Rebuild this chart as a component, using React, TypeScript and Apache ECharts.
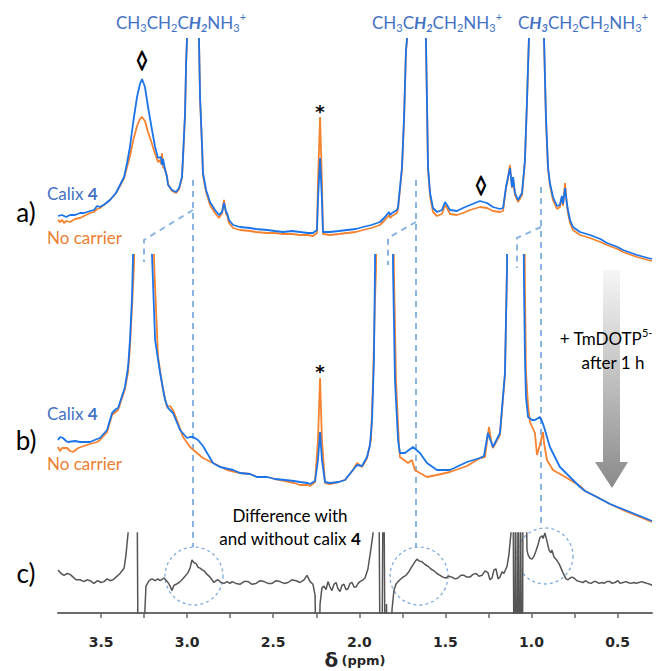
import React, { useEffect, useRef } from 'react';
import * as echarts from 'echarts';

// ppm, intensity (arbitrary units)
const aCalix: number[][] = [[3.750,46],[3.726,47],[3.703,45],[3.680,47],[3.651,47],[3.622,49],[3.599,49],[3.564,51],[3.541,52],[3.523,56],[3.506,55],[3.477,58],[3.448,62],[3.413,69],[3.390,77],[3.366,85],[3.349,99],[3.332,115],[3.314,139],[3.291,165],[3.274,178],[3.262,183],[3.245,175],[3.227,155],[3.204,132],[3.186,115],[3.169,104],[3.152,105],[3.146,97],[3.140,103],[3.128,92],[3.117,85],[3.111,77],[3.088,72],[3.064,70],[3.047,74],[3.030,85],[3.024,105],[3.012,149],[3.006,199],[3.001,222],[2.995,400],[2.937,400],[2.931,222],[2.925,165],[2.913,115],[2.908,89],[2.890,72],[2.867,60],[2.838,52],[2.815,47],[2.797,50],[2.786,59],[2.774,50],[2.768,49],[2.757,42],[2.733,37],[2.693,35],[2.635,34],[2.600,33],[2.536,32],[2.490,31],[2.443,30],[2.390,31],[2.344,30],[2.300,29],[2.269,29],[2.246,32],[2.240,62],[2.228,104],[2.217,62],[2.211,30],[2.170,30],[2.120,31],[2.071,32],[2.020,33],[1.978,35],[1.930,37],[1.880,40],[1.851,45],[1.828,50],[1.820,47],[1.810,49],[1.781,52],[1.775,55],[1.752,95],[1.740,145],[1.729,212],[1.723,223],[1.717,400],[1.618,400],[1.613,223],[1.607,162],[1.601,95],[1.589,69],[1.572,54],[1.549,50],[1.520,52],[1.502,60],[1.491,57],[1.473,52],[1.433,51],[1.398,54],[1.357,57],[1.299,61],[1.258,59],[1.224,55],[1.183,53],[1.165,54],[1.148,75],[1.136,85],[1.125,94],[1.113,75],[1.107,85],[1.096,69],[1.078,62],[1.055,69],[1.038,102],[1.026,162],[1.015,223],[1.009,400],[0.933,400],[0.927,223],[0.916,145],[0.904,95],[0.893,79],[0.875,65],[0.852,56],[0.835,57],[0.823,66],[0.817,58],[0.805,74],[0.794,58],[0.788,52],[0.776,42],[0.759,35],[0.718,30],[0.660,27],[0.600,23],[0.562,19],[0.500,15],[0.469,12],[0.420,9],[0.387,7],[0.323,4],[0.300,3]];

const aNoCarrier: number[][] = [[3.750,42],[3.738,40],[3.726,42],[3.715,39],[3.703,41],[3.680,40],[3.651,43],[3.622,44],[3.599,46],[3.564,49],[3.541,50],[3.523,53],[3.506,54],[3.477,58],[3.448,62],[3.413,69],[3.390,76],[3.366,84],[3.349,95],[3.332,106],[3.314,121],[3.291,136],[3.274,143],[3.262,145],[3.245,141],[3.227,130],[3.204,118],[3.186,108],[3.169,100],[3.157,102],[3.152,98],[3.146,109],[3.140,95],[3.128,93],[3.117,86],[3.111,78],[3.088,71],[3.064,69],[3.047,73],[3.030,84],[3.024,103],[3.012,148],[3.006,198],[3.001,221],[2.995,400],[2.937,400],[2.931,221],[2.925,163],[2.913,113],[2.908,87],[2.890,70],[2.867,57],[2.838,49],[2.815,44],[2.797,49],[2.786,62],[2.774,48],[2.768,47],[2.757,39],[2.733,34],[2.693,32],[2.635,31],[2.600,30],[2.536,29],[2.490,29],[2.443,28],[2.390,28],[2.344,27],[2.300,27],[2.269,26],[2.246,29],[2.240,80],[2.228,145],[2.217,80],[2.211,28],[2.170,27],[2.120,28],[2.071,29],[2.020,30],[1.978,32],[1.930,34],[1.880,37],[1.851,42],[1.828,47],[1.820,44],[1.810,46],[1.781,49],[1.775,53],[1.752,93],[1.740,143],[1.729,210],[1.723,221],[1.717,400],[1.618,400],[1.613,221],[1.607,160],[1.601,93],[1.589,66],[1.572,50],[1.549,46],[1.520,48],[1.502,57],[1.491,54],[1.473,48],[1.433,47],[1.398,49],[1.357,52],[1.299,55],[1.258,54],[1.224,51],[1.183,50],[1.165,51],[1.148,74],[1.136,84],[1.125,97],[1.113,74],[1.107,84],[1.096,67],[1.078,60],[1.055,67],[1.038,100],[1.026,160],[1.015,221],[1.009,400],[0.933,400],[0.927,221],[0.916,143],[0.904,93],[0.893,77],[0.875,62],[0.852,53],[0.835,55],[0.823,66],[0.817,56],[0.805,79],[0.794,56],[0.788,49],[0.776,39],[0.759,32],[0.718,27],[0.660,24],[0.600,20],[0.562,17],[0.500,13],[0.469,10],[0.420,7],[0.387,5],[0.323,2],[0.300,1]];

const bCalix: number[][] = [[3.750,87],[3.738,90],[3.721,89],[3.703,86],[3.692,85],[3.651,86],[3.622,85],[3.564,85],[3.523,88],[3.506,89],[3.465,97],[3.436,114],[3.413,118],[3.401,119],[3.361,140],[3.343,160],[3.332,187],[3.320,230],[3.314,272],[3.308,400],[3.210,400],[3.204,272],[3.186,187],[3.157,154],[3.128,127],[3.111,119],[3.099,117],[3.082,114],[3.053,102],[3.041,97],[3.001,89],[2.983,90],[2.966,90],[2.937,87],[2.908,81],[2.884,74],[2.850,64],[2.809,60],[2.733,57],[2.693,54],[2.635,53],[2.594,50],[2.536,50],[2.490,48],[2.431,47],[2.380,46],[2.344,45],[2.300,44],[2.286,43],[2.257,46],[2.240,67],[2.228,95],[2.217,67],[2.199,45],[2.170,44],[2.120,45],[2.083,47],[2.037,57],[2.013,62],[1.984,61],[1.955,70],[1.938,82],[1.926,107],[1.915,167],[1.909,257],[1.903,400],[1.810,400],[1.804,257],[1.793,147],[1.775,87],[1.764,74],[1.735,74],[1.688,80],[1.648,74],[1.607,64],[1.549,57],[1.473,57],[1.375,65],[1.299,69],[1.276,71],[1.253,94],[1.224,80],[1.183,94],[1.154,154],[1.142,260],[1.136,400],[1.049,400],[1.044,250],[1.038,170],[1.032,130],[1.020,110],[0.997,107],[0.980,107],[0.951,110],[0.939,106],[0.927,100],[0.893,80],[0.835,60],[0.759,47],[0.718,40],[0.689,36],[0.620,30],[0.544,23],[0.457,17],[0.370,11],[0.300,6]];

const bNoCarrier: number[][] = [[3.750,80],[3.738,76],[3.726,79],[3.697,79],[3.680,76],[3.662,75],[3.633,79],[3.600,81],[3.564,83],[3.523,85],[3.506,87],[3.465,95],[3.436,112],[3.401,117],[3.361,138],[3.343,155],[3.332,180],[3.320,220],[3.308,265],[3.303,400],[3.198,400],[3.192,265],[3.169,170],[3.140,137],[3.117,120],[3.099,121],[3.082,117],[3.059,107],[3.024,90],[2.983,80],[2.943,74],[2.908,69],[2.850,64],[2.768,57],[2.693,54],[2.635,53],[2.594,50],[2.536,50],[2.490,48],[2.431,46],[2.380,44],[2.344,42],[2.300,42],[2.286,41],[2.257,45],[2.240,87],[2.228,149],[2.217,87],[2.199,44],[2.170,43],[2.120,45],[2.083,47],[2.037,57],[2.013,64],[1.984,60],[1.955,69],[1.932,87],[1.920,147],[1.909,227],[1.903,257],[1.897,400],[1.804,400],[1.799,257],[1.787,147],[1.769,80],[1.764,70],[1.717,64],[1.694,67],[1.677,57],[1.648,54],[1.607,50],[1.549,52],[1.473,55],[1.375,61],[1.299,69],[1.270,70],[1.247,100],[1.235,87],[1.224,79],[1.183,92],[1.154,152],[1.142,260],[1.136,400],[1.044,400],[1.038,240],[1.032,155],[1.020,122],[1.009,105],[0.980,94],[0.968,72],[0.951,82],[0.933,95],[0.927,84],[0.910,67],[0.875,57],[0.794,49],[0.718,41],[0.689,36],[0.620,30],[0.544,23],[0.457,16],[0.370,10],[0.300,5]];

const cDifference: number[][] = [[3.750,48],[3.732,44],[3.715,42],[3.697,44],[3.680,43],[3.662,40],[3.645,37],[3.622,37],[3.599,35],[3.582,37],[3.564,36],[3.541,33],[3.520,36],[3.500,34],[3.483,35],[3.465,38],[3.448,36],[3.430,37],[3.413,40],[3.390,44],[3.366,50],[3.355,65],[3.343,89],[3.337,150],[3.291,150],[3.285,-50],[3.250,-50],[3.245,4],[3.239,30],[3.221,36],[3.204,38],[3.186,36],[3.169,38],[3.157,36],[3.134,39],[3.111,34],[3.099,30],[3.088,25],[3.076,31],[3.064,32],[3.047,34],[3.030,37],[3.012,41],[2.995,45],[2.983,50],[2.972,59],[2.960,56],[2.948,55],[2.937,51],[2.925,50],[2.913,48],[2.902,47],[2.884,43],[2.867,40],[2.856,37],[2.844,34],[2.833,36],[2.821,37],[2.804,34],[2.786,33],[2.768,35],[2.751,33],[2.739,35],[2.716,33],[2.693,32],[2.670,35],[2.646,35],[2.623,32],[2.600,33],[2.577,36],[2.553,35],[2.530,33],[2.507,33],[2.484,36],[2.461,35],[2.437,33],[2.414,34],[2.391,37],[2.368,36],[2.344,34],[2.321,37],[2.304,42],[2.286,35],[2.269,32],[2.257,20],[2.251,-50],[2.234,-50],[2.228,10],[2.217,28],[2.205,30],[2.193,26],[2.182,35],[2.170,29],[2.159,25],[2.147,32],[2.135,34],[2.124,27],[2.112,24],[2.100,31],[2.089,32],[2.077,26],[2.066,27],[2.054,33],[2.042,34],[2.031,29],[2.019,29],[2.007,33],[1.996,35],[1.978,37],[1.967,39],[1.950,49],[1.932,72],[1.920,89],[1.915,150],[1.886,150],[1.880,-50],[1.868,-50],[1.862,150],[1.857,150],[1.851,-50],[1.845,-50],[1.842,10],[1.839,-50],[1.816,-50],[1.810,4],[1.799,25],[1.787,32],[1.775,35],[1.764,37],[1.746,40],[1.729,42],[1.712,46],[1.694,52],[1.677,57],[1.665,60],[1.654,58],[1.636,57],[1.618,54],[1.601,52],[1.584,49],[1.566,47],[1.549,44],[1.531,42],[1.514,40],[1.497,39],[1.479,41],[1.462,40],[1.444,38],[1.427,39],[1.410,42],[1.392,42],[1.375,40],[1.357,40],[1.340,43],[1.322,44],[1.305,41],[1.287,42],[1.270,47],[1.253,45],[1.241,37],[1.229,39],[1.218,48],[1.206,49],[1.194,38],[1.183,40],[1.171,46],[1.160,44],[1.142,52],[1.131,65],[1.119,89],[1.113,150],[1.107,150],[1.102,-50],[1.096,-50],[1.093,150],[1.090,150],[1.087,-50],[1.081,-50],[1.078,150],[1.075,150],[1.073,-50],[1.067,-50],[1.064,150],[1.061,150],[1.058,-50],[1.052,-50],[1.049,150],[1.032,150],[1.026,70],[1.020,65],[1.009,61],[0.997,60],[0.986,63],[0.974,69],[0.962,76],[0.951,84],[0.939,86],[0.933,83],[0.922,89],[0.910,80],[0.898,70],[0.887,67],[0.881,70],[0.869,62],[0.858,60],[0.840,55],[0.817,45],[0.800,38],[0.788,37],[0.776,39],[0.765,40],[0.753,39],[0.736,36],[0.718,35],[0.701,34],[0.684,36],[0.672,34],[0.654,33],[0.637,35],[0.625,35],[0.608,33],[0.590,34],[0.579,33],[0.562,35],[0.544,35],[0.532,33],[0.515,34],[0.497,36],[0.486,33],[0.468,34],[0.451,35],[0.440,34],[0.422,33],[0.405,34],[0.393,33],[0.376,34],[0.358,35],[0.347,34],[0.329,33],[0.312,32],[0.300,31]];

const tickValues = [3.5, 3.25, 3.0, 2.75, 2.5, 2.25, 2.0, 1.75, 1.5, 1.25, 1.0, 0.75, 0.5];
const labelValues = [3.5, 3.0, 2.5, 2.0, 1.5, 1.0, 0.5];

const BLUE_LINE = '#1b74ea';
const ORANGE_LINE = '#f5822f';
const BLUE_TXT = '#4472c4';
const ORANGE_TXT = '#ed7d31';
const DASH = '#8ab5e2';
const FONT = 'Lato, "Open Sans", sans-serif';

function formulaRich(color: string) {
  return {
    n: { fontSize: 17, fontFamily: FONT, fill: color, lineHeight: 22, verticalAlign: 'middle' },
    s: { fontSize: 11, fontFamily: FONT, fill: color, lineHeight: 11, verticalAlign: 'bottom' },
    b: { fontSize: 17, fontFamily: FONT, fill: color, fontWeight: 'bold', fontStyle: 'italic', lineHeight: 22, verticalAlign: 'middle' },
    bs: { fontSize: 11, fontFamily: FONT, fill: color, fontWeight: 'bold', fontStyle: 'italic', lineHeight: 11, verticalAlign: 'bottom' },
    p: { fontSize: 11, fontFamily: FONT, fill: color, lineHeight: 11, verticalAlign: 'top' },
    k: { fontSize: 17, fontFamily: FONT, fill: color, fontWeight: 'bold', lineHeight: 22, verticalAlign: 'middle' },
  };
}

function txt(x: number, y: number, text: string, color: string, align = 'center', rich?: any, extra: any = {}) {
  return {
    type: 'text', x, y, z: 30,
    style: {
      text, fill: color, align, verticalAlign: 'middle', textAlign: align, textVerticalAlign: 'middle',
      fontFamily: FONT, fontSize: 17, rich: rich || formulaRich(color), ...extra,
    },
  };
}

function dashed(points: number[][]) {
  return { type: 'polyline', z: 1, shape: { points }, style: { stroke: DASH, lineWidth: 2, lineDash: [6, 5], fill: 'none' } };
}

function ring(cx: number, cy: number, r: number) {
  return { type: 'circle', z: 1, shape: { cx, cy, r }, style: { stroke: '#7fabdc', lineWidth: 1.3, lineDash: [3, 3], fill: 'none' } };
}

const diamondRich = { D: { fontSize: 19, fontWeight: 'bold', fontFamily: '"DejaVu Sans", sans-serif', fill: '#000', stroke: '#000', lineWidth: 1.2 } };
const starRich = { A: { fontSize: 18, fontWeight: 'bold', fontFamily: '"DejaVu Sans", sans-serif', fill: '#000' } };
const panelRich = { L: { fontSize: 26, fontFamily: FONT, fill: '#000' } };

export default function App() {
  const ref = useRef<HTMLDivElement>(null);
  useEffect(() => {
    document.body.style.margin = '0';
    const chart = echarts.init(ref.current!, null, { renderer: 'svg' });
    const xBase = { type: 'value', inverse: true, min: 0.3, max: 3.75 };
    const lineW = 1.8;
    const option: any = {
      animation: false,
      backgroundColor: '#ffffff',
      grid: [
        { left: 58, right: 10, top: 39, height: 223 },
        { left: 58, right: 10, top: 255, height: 272 },
        { left: 58, right: 10, top: 533, height: 89 },
      ],
      xAxis: [
        { ...xBase, gridIndex: 0, show: false },
        { ...xBase, gridIndex: 1, show: false },
        {
          ...xBase, gridIndex: 2, offset: 4,
          axisLine: { show: true, lineStyle: { color: '#6a6a6a', width: 2 } },
          axisTick: { show: true, customValues: tickValues, length: 5, lineStyle: { color: '#6a6a6a', width: 1.5 } },
          axisLabel: {
            customValues: labelValues, margin: 18, fontSize: 14, fontWeight: 'bold', color: '#262626',
            fontFamily: '"DejaVu Sans", sans-serif', formatter: (v: number) => v.toFixed(1),
          },
          splitLine: { show: false },
          name: '{d|δ} {p|(ppm)}', nameLocation: 'middle', nameGap: 31,
          nameTextStyle: {
            rich: {
              d: { fontSize: 20, fontWeight: 'bold', color: '#262626', fontFamily: '"DejaVu Sans", sans-serif' },
              p: { fontSize: 13, fontWeight: 'bold', color: '#262626', fontFamily: '"DejaVu Sans", sans-serif' },
            },
          },
        },
      ],
      yAxis: [
        { type: 'value', gridIndex: 0, min: 0, max: 223, show: false },
        { type: 'value', gridIndex: 1, min: 0, max: 272, show: false },
        { type: 'value', gridIndex: 2, min: 0, max: 89, show: false },
      ],
      series: [
        { type: 'line', xAxisIndex: 0, yAxisIndex: 0, data: aNoCarrier, symbol: 'none', clip: true, silent: true, lineStyle: { color: ORANGE_LINE, width: lineW }, z: 3 },
        { type: 'line', xAxisIndex: 0, yAxisIndex: 0, data: aCalix, symbol: 'none', clip: true, silent: true, lineStyle: { color: BLUE_LINE, width: lineW }, z: 4 },
        { type: 'line', xAxisIndex: 1, yAxisIndex: 1, data: bNoCarrier, symbol: 'none', clip: true, silent: true, lineStyle: { color: ORANGE_LINE, width: lineW }, z: 3 },
        { type: 'line', xAxisIndex: 1, yAxisIndex: 1, data: bCalix, symbol: 'none', clip: true, silent: true, lineStyle: { color: BLUE_LINE, width: lineW }, z: 4 },
        { type: 'line', xAxisIndex: 2, yAxisIndex: 2, data: cDifference, symbol: 'none', clip: true, silent: true, lineStyle: { color: '#555555', width: 1.5 }, z: 4 },
      ],
      graphic: [
        dashed([[193, 180], [193, 547]]),
        dashed([[193, 210], [144, 240], [144, 262]]),
        dashed([[416, 180], [416, 547]]),
        dashed([[416, 222], [388, 238], [388, 265]]),
        dashed([[541, 187], [541, 527]]),
        dashed([[541, 227], [517, 238], [517, 268]]),
        ring(194, 576, 29),
        ring(419, 576, 29),
        ring(545, 556, 28),
        {
          type: 'polygon', z: 2,
          shape: { points: [[603, 270], [620, 270], [620, 462], [628, 462], [612, 488], [595, 462], [603, 462]] },
          style: {
            fill: new echarts.graphic.LinearGradient(0, 0, 0, 1, [
              { offset: 0, color: '#f6f6f6' },
              { offset: 1, color: '#8a8a8a' },
            ]),
          },
        },
        txt(181, 22, '{n|CH}{s|3}{n|CH}{s|2}{n|C}{b|H}{bs|2}{n|NH}{s|3}{p|+}', BLUE_TXT),
        txt(437, 22, '{n|CH}{s|3}{n|C}{b|H}{bs|2}{n|CH}{s|2}{n|NH}{s|3}{p|+}', BLUE_TXT),
        txt(583, 22, '{n|C}{b|H}{bs|3}{n|CH}{s|2}{n|CH}{s|2}{n|NH}{s|3}{p|+}', BLUE_TXT),
        txt(47, 193, '{n|Calix }{k|4}', BLUE_TXT, 'left'),
        txt(47, 237, '{n|No carrier}', ORANGE_TXT, 'left'),
        txt(47, 413, '{n|Calix }{k|4}', BLUE_TXT, 'left'),
        txt(47, 463, '{n|No carrier}', ORANGE_TXT, 'left'),
        txt(26, 212, '{L|a)}', '#000', 'center', panelRich),
        txt(26, 440, '{L|b)}', '#000', 'center', panelRich),
        txt(26, 573, '{L|c)}', '#000', 'center', panelRich),
        txt(142, 59, '{D|◊}', '#000', 'center', diamondRich),
        txt(481, 184, '{D|◊}', '#000', 'center', diamondRich),
        txt(320, 111, '{A|*}', '#000', 'center', starRich),
        txt(320, 371, '{A|*}', '#000', 'center', starRich),
        txt(606, 338, '{n|+ TmDOTP}{p|5-}', '#000'),
        txt(613, 362, '{n|after 1 h}', '#000'),
        txt(290, 515, '{n|Difference with}', '#000'),
        txt(290, 538, '{n|and without calix }{k|4}', '#000'),
      ],
    };
    chart.setOption(option);
    return () => chart.dispose();
  }, []);
  return <div ref={ref} style={{ width: 662, height: 671 }} />;
}
